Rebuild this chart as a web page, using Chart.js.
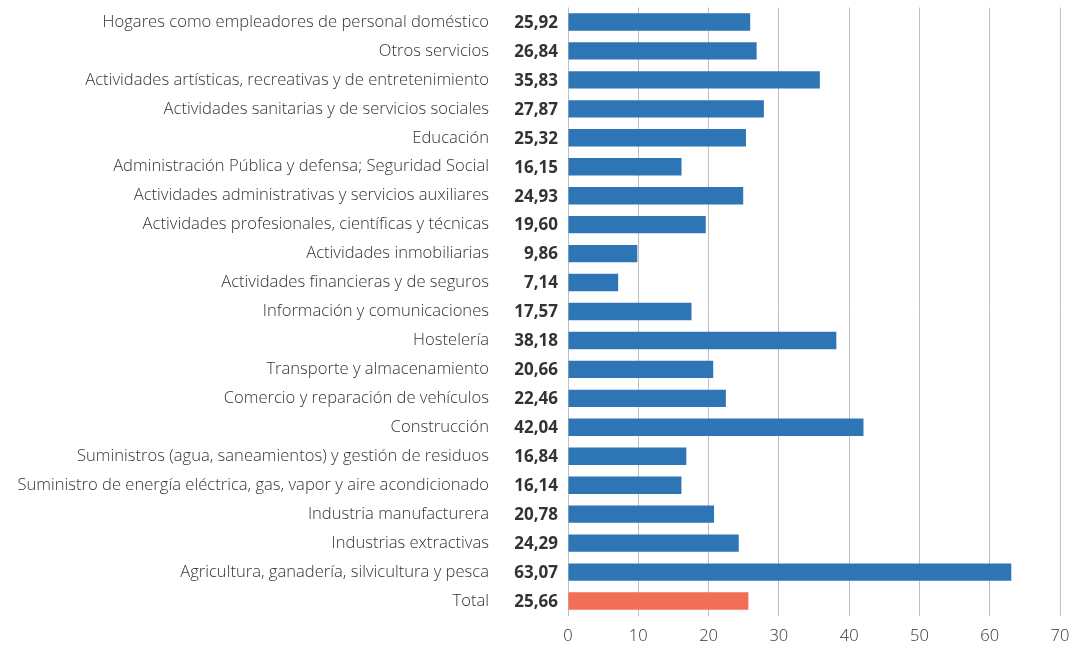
<!DOCTYPE html>
<html>
<head>
<meta charset="utf-8">
<script src="https://cdn.jsdelivr.net/npm/chart.js@4/dist/chart.umd.min.js"></script>
<style>
html,body{margin:0;padding:0;background:#fff;overflow:hidden;}
canvas{display:block;}
</style>
</head>
<body>
<canvas id="c" width="1082" height="646" style="width:1082px;height:646px;"></canvas>
<script>
const categories = [
  "Hogares como empleadores de personal doméstico",
  "Otros servicios",
  "Actividades artísticas, recreativas y de entretenimiento",
  "Actividades sanitarias y de servicios sociales",
  "Educación",
  "Administración Pública y defensa; Seguridad Social",
  "Actividades administrativas y servicios auxiliares",
  "Actividades profesionales, científicas y técnicas",
  "Actividades inmobiliarias",
  "Actividades financieras y de seguros",
  "Información y comunicaciones",
  "Hostelería",
  "Transporte y almacenamiento",
  "Comercio y reparación de vehículos",
  "Construcción",
  "Suministros (agua, saneamientos) y gestión de residuos",
  "Suministro de energía eléctrica, gas, vapor y aire acondicionado",
  "Industria manufacturera",
  "Industrias extractivas",
  "Agricultura, ganadería, silvicultura y pesca",
  "Total"
];
const values = [25.92, 26.84, 35.83, 27.87, 25.32, 16.15, 24.93, 19.60, 9.86, 7.14, 17.57, 38.18, 20.66, 22.46, 42.04, 16.84, 16.14, 20.78, 24.29, 63.07, 25.66];
const xTicks = [0, 10, 20, 30, 40, 50, 60, 70];

const FONT = "'Open Sans', sans-serif";
const blue = "#2E75B6";
const orange = "#F26E55";
const barColors = categories.map(c => c === "Total" ? orange : blue);

const valueLabels = {
  id: 'valueLabels',
  afterDraw(chart) {
    const ctx = chart.ctx;
    const yScale = chart.scales.y;
    ctx.save();
    ctx.font = "bold 17px " + FONT;
    ctx.fillStyle = "#333333";
    ctx.textAlign = "right";
    ctx.textBaseline = "middle";
    values.forEach((v, i) => {
      const y = yScale.getPixelForValue(i);
      ctx.fillText(v.toFixed(2).replace('.', ','), chart.chartArea.left - 10, y + 1);
    });
    ctx.restore();
  }
};

new Chart(document.getElementById('c'), {
  type: 'bar',
  data: {
    labels: categories,
    datasets: [{
      data: values,
      backgroundColor: barColors,
      borderWidth: 0,
      barPercentage: 0.6,
      categoryPercentage: 1.0
    }]
  },
  options: {
    indexAxis: 'y',
    responsive: false,
    maintainAspectRatio: false,
    devicePixelRatio: 1,
    animation: false,
    layout: { padding: { left: 0, right: 22, top: 7.5, bottom: 0 } },
    plugins: { legend: { display: false }, tooltip: { enabled: false } },
    scales: {
      x: {
        min: 0, max: 70,
        afterBuildTicks(scale) { scale.ticks = xTicks.map(v => ({ value: v })); },
        afterFit(scale) { scale.height = 30.5; scale.paddingLeft = 0; scale.paddingRight = 0; },
        grid: { color: "#BFBFBF", lineWidth: 1, drawTicks: false },
        border: { display: false },
        ticks: { font: { family: FONT, size: 16.5, weight: 300 }, color: "#333333", padding: 11, maxRotation: 0 }
      },
      y: {
        afterFit(scale) { scale.width = 568; scale.paddingTop = 0; scale.paddingBottom = 0; },
        grid: { display: false, drawTicks: false },
        border: { display: false },
        ticks: { font: { family: FONT, size: 16.6, weight: 300 }, color: "#333333", padding: 79, autoSkip: false }
      }
    }
  },
  plugins: [valueLabels]
});
</script>
</body>
</html>
